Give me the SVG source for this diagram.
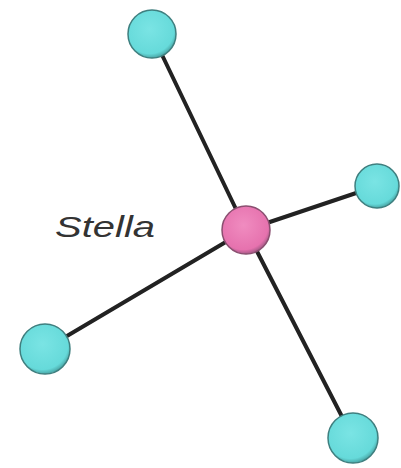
<svg xmlns="http://www.w3.org/2000/svg" width="401" height="468" viewBox="0 0 401 468">
<defs>
<radialGradient id="cy" cx="0.45" cy="0.4" r="0.6">
<stop offset="0" stop-color="#7ae4e4"/>
<stop offset="0.85" stop-color="#66dada"/>
<stop offset="1" stop-color="#4aa8a8"/>
</radialGradient>
<radialGradient id="pk" cx="0.45" cy="0.4" r="0.6">
<stop offset="0" stop-color="#f08cc0"/>
<stop offset="0.85" stop-color="#e672ae"/>
<stop offset="1" stop-color="#a85a88"/>
</radialGradient>
</defs>
<style>
.edge{stroke:#222;stroke-width:4;stroke-linecap:round;fill:none}
.leaf{fill:url(#cy);stroke:#3f7f7f;stroke-width:1.5}
.hub{fill:url(#pk);stroke:#8a4f70;stroke-width:1.5}
.lbl{font-family:"Liberation Sans",Arial,sans-serif;font-style:italic;font-size:30px;fill:#333}
</style>
<rect width="401" height="468" fill="#fff"/>
<g id="connectors">
<line class="edge" x1="152" y1="34" x2="246" y2="230"/>
<line class="edge" x1="246" y1="230" x2="377" y2="186"/>
<line class="edge" x1="246" y1="230" x2="45" y2="349"/>
<line class="edge" x1="246" y1="230" x2="353" y2="438"/>
</g>
<g id="n-top"><circle class="leaf" cx="152" cy="34" r="24"/></g>
<g id="n-right"><circle class="leaf" cx="377" cy="186" r="22"/></g>
<g id="n-left"><circle class="leaf" cx="45" cy="349" r="25"/></g>
<g id="n-bottom"><circle class="leaf" cx="353" cy="438" r="25"/></g>
<g id="n-hub"><circle class="hub" cx="246" cy="230" r="24"/></g>
<g id="label"><text class="lbl" x="55" y="237" textLength="100" lengthAdjust="spacingAndGlyphs">Stella</text></g>
</svg>
